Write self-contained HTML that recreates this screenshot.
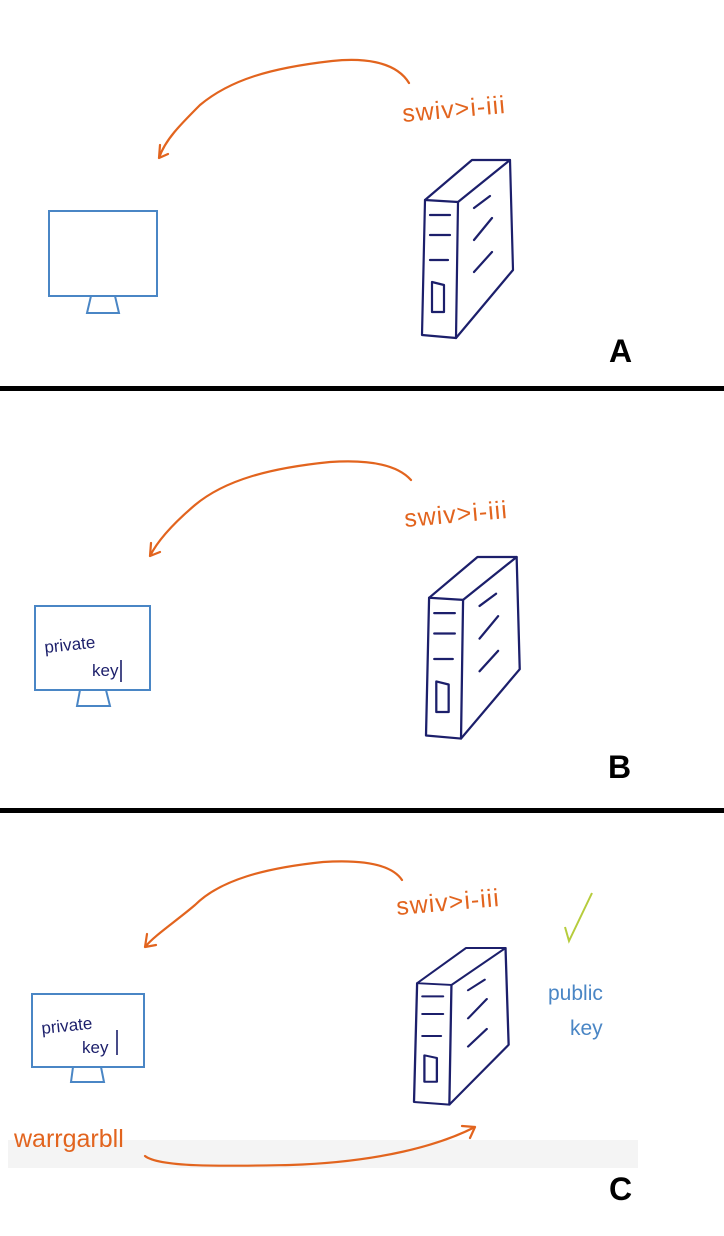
<!DOCTYPE html>
<html><head><meta charset="utf-8"><style>
html,body{margin:0;padding:0;background:#fff;width:724px;height:1236px;overflow:hidden}
svg{display:block}
.o{fill:none;stroke:#e2641e;stroke-width:2.2;stroke-linecap:round;stroke-linejoin:round}
.m{fill:none;stroke:#4a86c5;stroke-width:2}
.s{fill:none;stroke:#1c1f6b;stroke-width:2.2;stroke-linecap:round;stroke-linejoin:round}
.ot{fill:#e2641e;font-family:"Liberation Sans",sans-serif;font-size:25px;letter-spacing:1px}
.kt{fill:#1c1f6b;font-family:"Liberation Sans",sans-serif;font-size:17px}
.bt{fill:#4a86c5;font-family:"Liberation Sans",sans-serif;font-size:21px}
.lab{fill:#000;font-family:"Liberation Sans",sans-serif;font-size:32px;font-weight:bold}
</style></head><body>
<svg width="724" height="1236" viewBox="0 0 724 1236">
<defs>
<g id="server">
<path class="s" d="M3 40 L50 0 L88 0 L36 42 Z"/>
<path class="s" d="M3 40 L0 175 L34 178 L36 42"/>
<path class="s" d="M88 0 L91 110 L34 178"/>
<path class="s" d="M8 55 L28 55 M8 75 L28 75 M8 100 L26 100 M10 122 L22 125 L22 152 L10 152 Z"/>
<path class="s" d="M52 48 L68 36 M52 80 L70 58 M52 112 L70 92"/>
</g>
</defs>
<g>
<path class="o" d="M409 83 C395 60 360 58 332 61 C270 68 230 80 200 105 C180 125 165 140 159 158 M159 158 L160 145 M159 158 L168 154"/>
<text class="ot" x="403" y="122" transform="rotate(-5 403 122)">swiv&gt;i-iii</text>
<g><rect class="m" x="49" y="211" width="108" height="85"/><path class="m" d="M91 296 L87 313 L119 313 L115 296"/></g>
<g><use href="#server" transform="translate(422,160)"/></g>
<text class="lab" x="609" y="362">A</text>
</g>
<rect x="0" y="386" width="724" height="5" fill="#000"/>
<g>
<path class="o" d="M411 480 C395 462 360 460 330 462 C270 468 225 480 195 505 C175 522 158 540 150 556 M150 556 L151 543 M150 556 L160 552"/>
<text class="ot" x="405" y="527" transform="rotate(-5 405 527)">swiv&gt;i-iii</text>
<g><rect class="m" x="35" y="606" width="115" height="84"/><path class="m" d="M80 690 L77 706 L110 706 L106 690"/>
<text class="kt" x="45" y="653" transform="rotate(-6 45 653)">private</text><text class="kt" x="92" y="676">key</text><path d="M121 660 L121 682" stroke="#1c1f6b" stroke-width="1.6"/></g>
<g><use href="#server" transform="translate(426,557) scale(1.03,1.02)"/></g>
<text class="lab" x="608" y="778">B</text>
</g>
<rect x="0" y="808" width="724" height="5" fill="#000"/>
<g>
<rect x="8" y="1140" width="630" height="28" fill="#f4f4f4"/>
<path class="o" d="M402 880 C390 862 355 860 323 862 C265 868 220 880 195 905 C175 922 155 935 145 947 M145 947 L147 934 M145 947 L156 945"/>
<text class="ot" x="397" y="915" transform="rotate(-5 397 915)">swiv&gt;i-iii</text>
<path d="M565 927 L569 941 L592 893" fill="none" stroke="#b6cc3c" stroke-width="2"/>
<text class="bt" x="548" y="1000">public</text>
<text class="bt" x="570" y="1035">key</text>
<g><rect class="m" x="32" y="994" width="112" height="73"/><path class="m" d="M73 1067 L71 1082 L104 1082 L101 1067"/>
<text class="kt" x="42" y="1034" transform="rotate(-6 42 1034)">private</text><text class="kt" x="82" y="1053">key</text><path d="M117 1030 L117 1055" stroke="#1c1f6b" stroke-width="1.6"/></g>
<g><use href="#server" transform="translate(414,948) scale(1.04,0.88)"/></g>
<text class="ot" x="14" y="1147" style="letter-spacing:0">warrgarbll</text>
<path class="o" d="M145 1156 C160 1168 230 1166 290 1165 C380 1162 440 1145 475 1127 M475 1127 L462 1126 M475 1127 L470 1138"/>
<text class="lab" x="609" y="1200">C</text>
</g>
</svg>
</body></html>
